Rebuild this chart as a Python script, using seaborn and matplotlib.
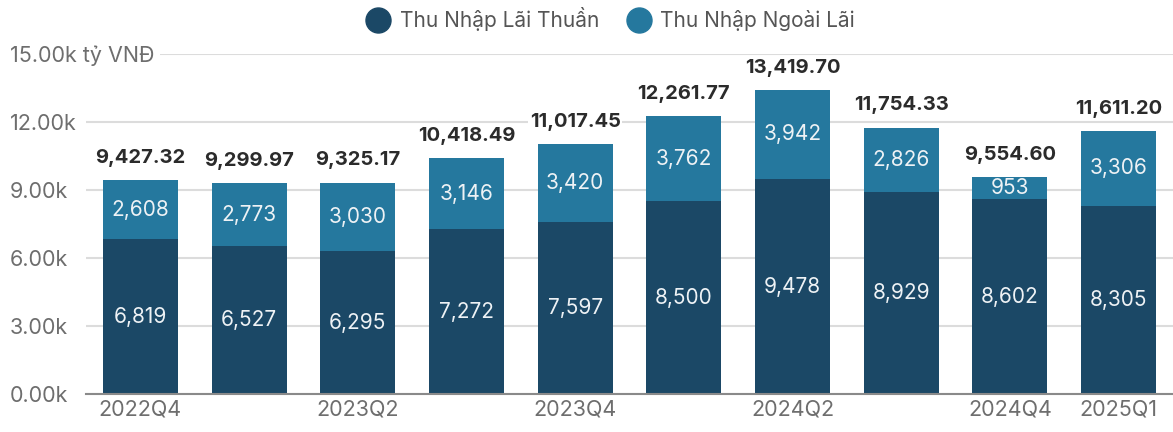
import matplotlib
matplotlib.use("Agg")
import matplotlib.pyplot as plt
from matplotlib.lines import Line2D
import seaborn as sns
import pandas as pd

# data
quarters = ['2022Q4', '2023Q1', '2023Q2', '2023Q3', '2023Q4',
            '2024Q1', '2024Q2', '2024Q3', '2024Q4', '2025Q1']
lai_thuan = [6819, 6527, 6295, 7272, 7597, 8500, 9478, 8929, 8602, 8305]
ngoai_lai = [2608, 2773, 3030, 3146, 3420, 3762, 3942, 2826, 953, 3306]
tong = [9427.32, 9299.97, 9325.17, 10418.49, 11017.45,
        12261.77, 13419.70, 11754.33, 9554.60, 11611.20]
shown_ticks = ['2022Q4', '2023Q2', '2023Q4', '2024Q2', '2024Q4', '2025Q1']
y_ticks = [0, 3000, 6000, 9000, 12000, 15000]
y_labels = ['0.00k', '3.00k', '6.00k', '9.00k', '12.00k', '15.00k tỷ VNĐ']

dark = '#1b4866'
light = '#25789e'
grey = '#6e6e6e'

sns.set_style('white')
plt.rcParams['font.family'] = ['Inter', 'DejaVu Sans']

df = pd.DataFrame({'quarter': quarters, 'lai': lai_thuan,
                   'ngoai': ngoai_lai, 'tong': tong})
df['stack'] = df['lai'] + df['ngoai']

fig = plt.figure(figsize=(11.73, 4.32), dpi=100)
ax = fig.add_axes([86 / 1173, 1 - 394 / 432, 1 - 86 / 1173, 340 / 432])

# full stack in light colour, then the bottom part on top in dark
sns.barplot(data=df, x='quarter', y='stack', color=light, width=0.69,
            saturation=1, linewidth=0, ax=ax, zorder=2)
sns.barplot(data=df, x='quarter', y='lai', color=dark, width=0.69,
            saturation=1, linewidth=0, ax=ax, zorder=3)

for i, row in df.iterrows():
    ax.text(i, row['lai'] / 2, f"{row['lai']:,}", ha='center', va='center',
            color='#eef2f5', fontsize=15, zorder=5)
    ax.text(i, row['lai'] + row['ngoai'] / 2, f"{row['ngoai']:,}",
            ha='center', va='center', color='#eef2f5', fontsize=15, zorder=5)
    ax.annotate(f"{row['tong']:,.2f}", (i, row['stack']), xytext=(0, 16),
                textcoords='offset points', ha='center', va='center',
                fontsize=14.5, fontweight='bold', color='#2b2b2b', zorder=6,
                bbox=dict(fc='white', ec='none', pad=1))

ax.set_xlim(-0.5, 9.5)
ax.set_ylim(0, 15000)
ax.set_xticks([quarters.index(q) for q in shown_ticks], shown_ticks)
ax.set_yticks(y_ticks, y_labels, ha='left')
ax.tick_params(axis='y', length=0, pad=54.7, labelsize=15.5, labelcolor=grey)
ax.tick_params(axis='x', length=0, pad=4, labelsize=15.5, labelcolor=grey)
ax.get_yticklabels()[-1].set_bbox(dict(fc='white', ec='none', pad=4))

ax.grid(axis='y', color='#dcdcdc', lw=1.5, zorder=0)
ax.set_axisbelow(True)
sns.despine(ax=ax, left=True)
ax.spines['bottom'].set_color('#8a8a8a')
ax.spines['bottom'].set_linewidth(1.5)
ax.spines['bottom'].set_zorder(4)
ax.set_xlabel('')
ax.set_ylabel('')

handles = [Line2D([], [], marker='o', ls='', ms=18, color=dark),
           Line2D([], [], marker='o', ls='', ms=18, color=light)]
fig.legend(handles, ['Thu Nhập Lãi Thuần', 'Thu Nhập Ngoài Lãi'],
           loc='center', bbox_to_anchor=(606 / 1173, 1 - 19 / 432), ncol=2,
           frameon=False, fontsize=15, labelcolor='#555555',
           handletextpad=0.05, columnspacing=0.9)

fig.savefig('out.png', dpi=100)
